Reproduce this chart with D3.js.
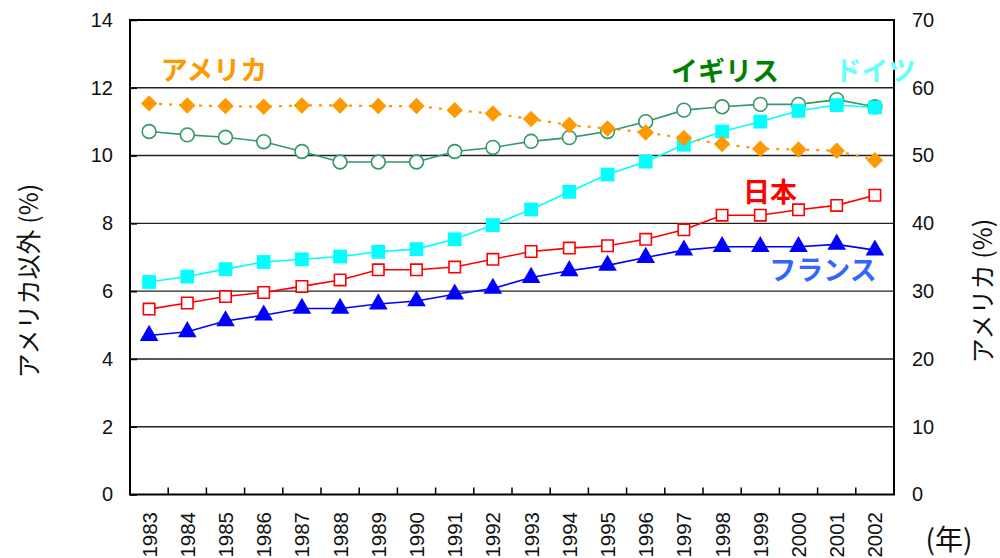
<!DOCTYPE html>
<html>
<head>
<meta charset="utf-8">
<script src="https://cdn.jsdelivr.net/npm/d3@7"></script>
<style>
  html, body { margin: 0; padding: 0; background: #fff; }
  svg { display: block; }
</style>
</head>
<body>
<svg id="chart" width="1000" height="558"></svg>
<script>
// Years on the horizontal axis
const years = [1983, 1984, 1985, 1986, 1987, 1988, 1989, 1990, 1991, 1992,
               1993, 1994, 1995, 1996, 1997, 1998, 1999, 2000, 2001, 2002];

// Left-axis series (%)
const uk      = [10.71, 10.61, 10.54, 10.41, 10.12, 9.81, 9.81, 9.81, 10.12, 10.24,
                 10.42, 10.53, 10.71, 11.0, 11.34, 11.44, 11.51, 11.51, 11.65, 11.44];
const germany = [6.27, 6.43, 6.65, 6.86, 6.94, 7.02, 7.16, 7.24, 7.53, 7.95,
                 8.41, 8.93, 9.44, 9.82, 10.32, 10.71, 11.0, 11.32, 11.49, 11.42];
const japan   = [5.47, 5.65, 5.84, 5.96, 6.14, 6.33, 6.63, 6.63, 6.71, 6.94,
                 7.17, 7.27, 7.34, 7.53, 7.81, 8.24, 8.24, 8.40, 8.53, 8.83];
const france  = [4.69, 4.80, 5.12, 5.29, 5.49, 5.49, 5.62, 5.71, 5.91, 6.08,
                 6.40, 6.60, 6.76, 6.99, 7.21, 7.31, 7.31, 7.31, 7.38, 7.21];

// Right-axis series (%)
const usa     = [57.7, 57.4, 57.3, 57.2, 57.4, 57.4, 57.3, 57.3, 56.7, 56.2,
                 55.4, 54.5, 54.0, 53.4, 52.6, 51.7, 51.0, 50.9, 50.7, 49.3];

const leftTicks  = [0, 2, 4, 6, 8, 10, 12, 14];
const rightTicks = [0, 10, 20, 30, 40, 50, 60, 70];

const svg = d3.select("#chart");
const plot = { left: 130, right: 894, top: 20, bottom: 494.5 };

const x = d3.scaleBand().domain(years).range([plot.left, plot.right]);
const yL = d3.scaleLinear().domain([0, 14]).range([plot.bottom, plot.top]);
const yR = d3.scaleLinear().domain([0, 70]).range([plot.bottom, plot.top]);
const cx = d => x(d) + x.bandwidth() / 2;

const latin = "'Liberation Sans', Arial, sans-serif";
const cjk = "'Noto Sans CJK JP', 'Noto Sans', sans-serif";

// Horizontal gridlines
svg.append("g").selectAll("line")
  .data(leftTicks.filter(t => t > 0 && t < 14))
  .join("line")
  .attr("x1", plot.left).attr("x2", plot.right)
  .attr("y1", d => yL(d)).attr("y2", d => yL(d))
  .attr("stroke", "#222").attr("stroke-width", 1.4);

// Left axis (ticks point into the plot)
const axL = svg.append("g")
  .attr("transform", `translate(${plot.left},0)`)
  .call(d3.axisLeft(yL).tickValues(leftTicks).tickSize(-7).tickPadding(17).tickFormat(d3.format("d")));
axL.select(".domain").remove();
axL.selectAll(".tick line").attr("stroke", "#000").attr("stroke-width", 1.6);
axL.selectAll("text").attr("font-family", latin).attr("font-size", 20).attr("fill", "#111");

// Right axis labels
const axR = svg.append("g")
  .attr("transform", `translate(${plot.right},0)`)
  .call(d3.axisRight(yR).tickValues(rightTicks).tickSize(0).tickPadding(18).tickFormat(d3.format("d")));
axR.select(".domain").remove();
axR.selectAll("text").attr("font-family", latin).attr("font-size", 20).attr("fill", "#111");

// Category boundary ticks on the bottom axis
svg.append("g").selectAll("line")
  .data(years.slice(1))
  .join("line")
  .attr("x1", d => x(d)).attr("x2", d => x(d))
  .attr("y1", plot.bottom).attr("y2", plot.bottom - 7)
  .attr("stroke", "#000").attr("stroke-width", 1.5);

// Plot frame
svg.append("rect")
  .attr("x", plot.left).attr("y", plot.top)
  .attr("width", plot.right - plot.left).attr("height", plot.bottom - plot.top)
  .attr("fill", "none").attr("stroke", "#000").attr("stroke-width", 2);

// Year labels, rotated
svg.append("g").selectAll("text")
  .data(years)
  .join("text")
  .attr("transform", d => `translate(${cx(d) + 7.5},512) rotate(-90)`)
  .attr("text-anchor", "end")
  .attr("font-family", latin).attr("font-size", 20.5).attr("fill", "#111")
  .text(d => d);

svg.append("text")
  .attr("x", 949).attr("y", 550)
  .attr("text-anchor", "middle")
  .attr("font-family", cjk).attr("font-size", 28).attr("fill", "#111")
  .text("(年)");

// Axis titles
svg.append("text")
  .attr("transform", "translate(38,281) rotate(-90)")
  .attr("text-anchor", "middle")
  .attr("font-family", cjk).attr("font-size", 25).attr("fill", "#111")
  .text("アメリカ以外 (%)");

svg.append("text")
  .attr("transform", "translate(992,291) rotate(-90)")
  .attr("text-anchor", "middle")
  .attr("font-family", cjk).attr("font-size", 25).attr("fill", "#111")
  .text("アメリカ (%)");

// Series drawing helper
function drawSeries(values, yScale, opts) {
  const g = svg.append("g");
  const line = d3.line().x((d, i) => cx(years[i])).y(d => yScale(d));
  g.append("path")
    .attr("d", line(values))
    .attr("fill", "none")
    .attr("stroke", opts.line)
    .attr("stroke-width", opts.width || 1.6)
    .attr("stroke-dasharray", opts.dash || null);
  g.selectAll("path.m")
    .data(values)
    .join("path")
    .attr("class", "m")
    .attr("transform", (d, i) => `translate(${cx(years[i])},${yScale(d)}) rotate(${opts.rotate || 0})`)
    .attr("d", d3.symbol().type(opts.symbol).size(opts.size))
    .attr("fill", opts.fill)
    .attr("stroke", opts.stroke || "none")
    .attr("stroke-width", opts.strokeWidth || 0);
}

drawSeries(uk, yL, { line: "#339966", symbol: d3.symbolCircle, size: 150,
  fill: "#fff", stroke: "#339966", strokeWidth: 1.6 });
drawSeries(germany, yL, { line: "#00FFFF", symbol: d3.symbolSquare, size: 190, fill: "#00FFFF" });
drawSeries(japan, yL, { line: "#FF0000", symbol: d3.symbolSquare, size: 130,
  fill: "#fff", stroke: "#FF0000", strokeWidth: 1.6 });
drawSeries(france, yL, { line: "#0000FF", symbol: d3.symbolTriangle, size: 150, fill: "#0000FF" });
// Diamonds: squares turned 45 degrees
drawSeries(usa, yR, { line: "#FF9900", width: 2.2, dash: "3,7", symbol: d3.symbolSquare,
  size: 135, rotate: 45, fill: "#FF9900" });

// Series name labels
const names = [
  { text: "アメリカ", x: 214, y: 80, color: "#FF9900" },
  { text: "イギリス", x: 725, y: 81, color: "#008000" },
  { text: "ドイツ",   x: 875, y: 81, color: "#66FFFF" },
  { text: "日本",     x: 770, y: 202, color: "#FF0000" },
  { text: "フランス", x: 823, y: 280, color: "#3366FF" }
];
svg.append("g").selectAll("text")
  .data(names)
  .join("text")
  .attr("x", d => d.x).attr("y", d => d.y)
  .attr("text-anchor", "middle")
  .attr("font-family", cjk).attr("font-weight", "bold").attr("font-size", 27)
  .attr("fill", d => d.color)
  .text(d => d.text);
</script>
</body>
</html>
